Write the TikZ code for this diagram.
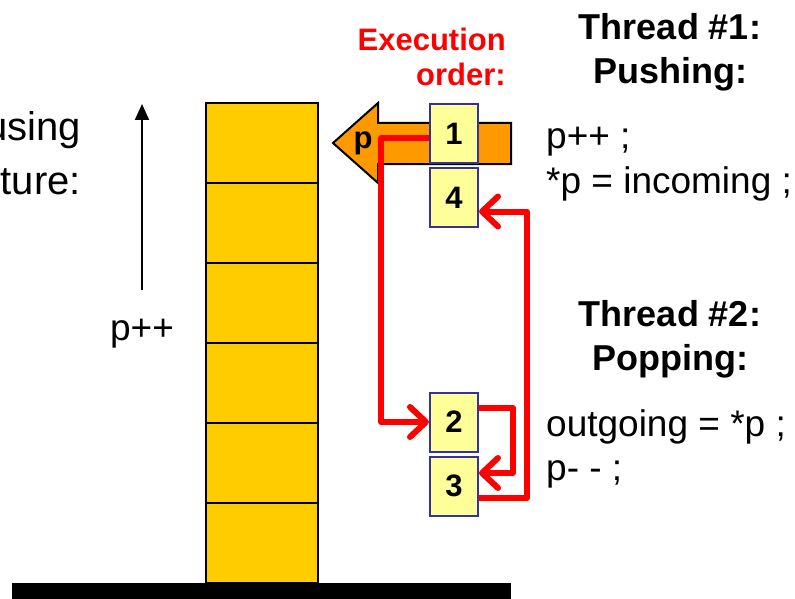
\documentclass[tikz,border=0pt]{standalone}
\usepackage{fontspec}
\setmainfont{Liberation Sans}
\usetikzlibrary{arrows.meta}
\definecolor{stackyellow}{HTML}{FFCC00}
\definecolor{boxyellow}{HTML}{FFFF99}
\definecolor{boxblue}{HTML}{333399}
\definecolor{ptrorange}{HTML}{FF9900}
\begin{document}
\begin{tikzpicture}[x=1pt,y=-1pt,
  cell/.style={draw=black, line width=2.5pt, fill=stackyellow},
  orderbox/.style={draw=boxblue, line width=2pt, fill=boxyellow,
    minimum width=48pt, minimum height=59pt, inner sep=0pt,
    font=\bfseries\fontsize{31}{31}\selectfont},
  flow/.style={draw=red, line width=6pt, line join=round,
    -{Straight Barb[length=16pt,width=30pt,line cap=round,line join=round]}},
  body/.style={font=\fontsize{37}{44}\selectfont, inner sep=0pt},
  caption/.style={font=\fontsize{40}{48}\selectfont, inner sep=0pt},
  head/.style={font=\bfseries\fontsize{36}{44}\selectfont, inner sep=0pt},
  redhead/.style={font=\bfseries\fontsize{31}{36}\selectfont, text=red, inner sep=0pt},
]
\useasboundingbox (0,0) rectangle (795,599);

% the stack of cells
\foreach \top in {103,183,263,343,423,503}
  \draw[cell] (206,\top) rectangle (318,\top+80);

% ground
\fill[black] (12,583) rectangle (511,599);

% growth direction of the stack pointer
\coordinate (growlow) at (142,290);
\coordinate (growhigh) at (142,104);
\draw[line width=2pt, -{Triangle[length=16pt,width=14pt]}] (growlow) -- (growhigh);
\node[body, anchor=base] (pinc) at (142,340) {p++};

% caption on the left, running past the edge
\node[caption, anchor=base east] (capa) at (81,140) {using};
\node[caption, anchor=base east] (capb) at (81,194) {ture:};

% pointer arrow p
\draw[black, line width=2pt, fill=ptrorange, line join=miter]
  (511,123) -- (378,123) -- (378,103) -- (333,143) -- (378,183)
  -- (378,164) -- (511,164) -- cycle;
\node[inner sep=0pt, font=\bfseries\fontsize{31}{31}\selectfont] (plabel) at (363,143) {p};

% execution order boxes
\node[orderbox] (b1) at (454,133.5) {1};
\node[orderbox] (b4) at (454,197.5) {4};
\node[orderbox] (b2) at (454,422) {2};
\node[orderbox] (b3) at (454,486) {3};

% execution order connectors
\draw[flow] ([yshift=-5pt]b1.west) -- ++(-48,0) |- (b2.west);
\draw[flow] ([yshift=14pt]b2.east) -- ++(34,0) |- ([yshift=13pt]b3.east);
\draw[flow] ([yshift=-12pt]b3.east) -- ++(48,0) |- ([yshift=-14pt]b4.east);

% headings
\node[redhead, anchor=base east] (exa) at (506,51) {Execution};
\node[redhead, anchor=base east] (exb) at (506,86) {order:};
\node[head, anchor=base] (t1a) at (670,40) {Thread \#1:};
\node[head, anchor=base] (t1b) at (670,84) {Pushing:};
\node[head, anchor=base] (t2a) at (670,326) {Thread \#2:};
\node[head, anchor=base] (t2b) at (670,370) {Popping:};

% code lines
\node[body, anchor=base west] (c1) at (546,149) {p++ ;};
\node[body, anchor=base west] (c2) at (546,193) {*p = incoming ;};
\node[body, anchor=base west] (c3) at (546,436) {outgoing = *p ;};
\node[body, anchor=base west] (c4) at (546,480) {p- - ;};
\end{tikzpicture}
\end{document}
